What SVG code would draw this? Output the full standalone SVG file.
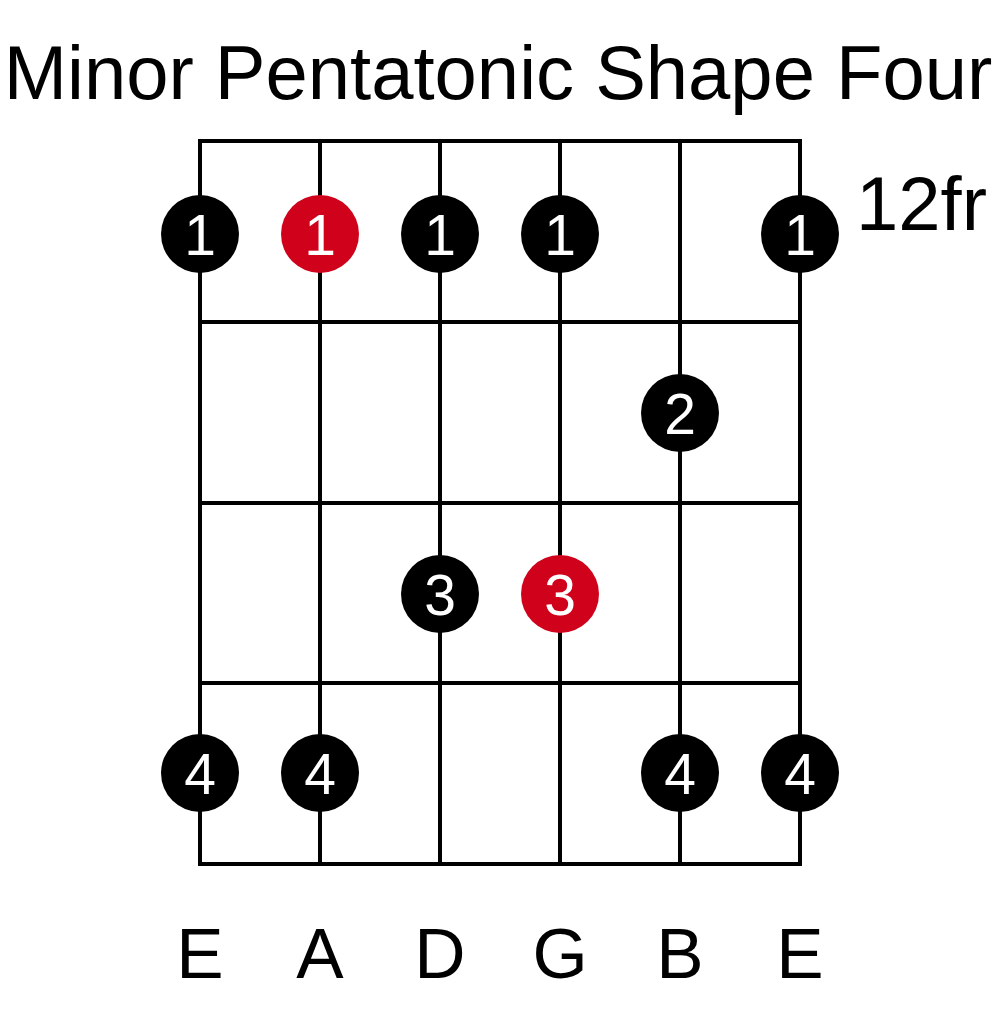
<svg xmlns="http://www.w3.org/2000/svg" width="1000" height="1031" viewBox="0 0 1000 1031">
<style>
text{font-family:"Liberation Sans",Arial,sans-serif;}
.grid line{stroke:#000;stroke-width:4;stroke-linecap:square;}
.dot{fill:#000;}
.root{fill:#D0021B;}
.num{fill:#fff;font-size:57px;text-anchor:middle;}
.lbl{fill:#000;font-size:71px;text-anchor:middle;}
</style>
<rect width="1000" height="1031" fill="#fff"/>
<text x="498" y="99" font-size="76" text-anchor="middle">Minor Pentatonic Shape Four</text>
<text x="856" y="230" font-size="76">12fr</text>
<g id="connectors" class="grid">
<line x1="200" y1="141" x2="800" y2="141"/>
<line x1="200" y1="322" x2="800" y2="322"/>
<line x1="200" y1="503" x2="800" y2="503"/>
<line x1="200" y1="683" x2="800" y2="683"/>
<line x1="200" y1="864" x2="800" y2="864"/>
<line x1="200" y1="141" x2="200" y2="864"/>
<line x1="320" y1="141" x2="320" y2="864"/>
<line x1="440" y1="141" x2="440" y2="864"/>
<line x1="560" y1="141" x2="560" y2="864"/>
<line x1="680" y1="141" x2="680" y2="864"/>
<line x1="800" y1="141" x2="800" y2="864"/>
</g>
<g id="n1"><circle class="dot" cx="200" cy="234" r="39"/><text class="num" x="200" y="255">1</text></g>
<g id="n2"><circle class="root" cx="320" cy="234" r="39"/><text class="num" x="320" y="255">1</text></g>
<g id="n3"><circle class="dot" cx="440" cy="234" r="39"/><text class="num" x="440" y="255">1</text></g>
<g id="n4"><circle class="dot" cx="560" cy="234" r="39"/><text class="num" x="560" y="255">1</text></g>
<g id="n5"><circle class="dot" cx="800" cy="234" r="39"/><text class="num" x="800" y="255">1</text></g>
<g id="n6"><circle class="dot" cx="680" cy="413" r="39"/><text class="num" x="680" y="434">2</text></g>
<g id="n7"><circle class="dot" cx="440" cy="594" r="39"/><text class="num" x="440" y="615">3</text></g>
<g id="n8"><circle class="root" cx="560" cy="594" r="39"/><text class="num" x="560" y="615">3</text></g>
<g id="n9"><circle class="dot" cx="200" cy="773" r="39"/><text class="num" x="200" y="794">4</text></g>
<g id="n10"><circle class="dot" cx="320" cy="773" r="39"/><text class="num" x="320" y="794">4</text></g>
<g id="n11"><circle class="dot" cx="680" cy="773" r="39"/><text class="num" x="680" y="794">4</text></g>
<g id="n12"><circle class="dot" cx="800" cy="773" r="39"/><text class="num" x="800" y="794">4</text></g>
<g id="labels">
<text class="lbl" x="200" y="978">E</text>
<text class="lbl" x="320" y="978">A</text>
<text class="lbl" x="440" y="978">D</text>
<text class="lbl" x="560" y="978">G</text>
<text class="lbl" x="680" y="978">B</text>
<text class="lbl" x="800" y="978">E</text>
</g>
</svg>
